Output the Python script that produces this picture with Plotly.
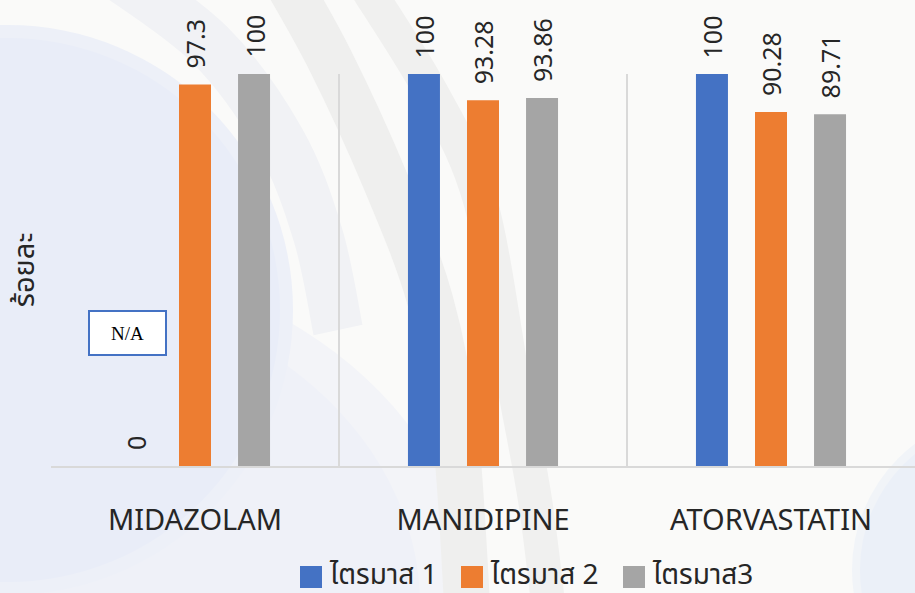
import plotly.graph_objects as go

# ---------------- data ----------------
categories = ["MIDAZOLAM", "MANIDIPINE", "ATORVASTATIN"]
series_names = ["ไตรมาส 1", "ไตรมาส 2", "ไตรมาส3"]
q1_values = [0, 100, 100]
q2_values = [97.3, 93.28, 90.28]
q3_values = [100, 93.86, 89.71]
series_values = [q1_values, q2_values, q3_values]
series_colors = ["#4472C4", "#ED7D31", "#A5A5A5"]
y_title = "ร้อยละ"
na_text = "N/A"
na_value = 34

# ---------------- layout constants ----------------
W, H = 915, 593
L, R, T, B = 51, 0, 74, 127
PW, PH = W - L - R, H - T - B
BARGAP, BARGROUPGAP = 0.385, 0.458
n_series = len(series_values)
slot_px = PW / len(categories) * (1 - BARGAP) / n_series

FONT = "Noto Sans, Noto Sans Thai, Leelawadee UI, Tahoma, sans-serif"
TXT = "#262626"


def p2x(x):
    return (x - L) / PW


def p2y(y):
    return (H - B - y) / PH


def smooth_path(pts):
    pts = [(p2x(x), p2y(y)) for x, y in pts]
    d = f"M{pts[0][0]:.4f},{pts[0][1]:.4f}"
    for i in range(len(pts) - 1):
        p0 = pts[i - 1] if i > 0 else pts[i]
        p1, p2 = pts[i], pts[i + 1]
        p3 = pts[i + 2] if i + 2 < len(pts) else pts[i + 1]
        c1 = (p1[0] + (p2[0] - p0[0]) / 6, p1[1] + (p2[1] - p0[1]) / 6)
        c2 = (p2[0] - (p3[0] - p1[0]) / 6, p2[1] - (p3[1] - p1[1]) / 6)
        d += f" C{c1[0]:.4f},{c1[1]:.4f} {c2[0]:.4f},{c2[1]:.4f} {p2[0]:.4f},{p2[1]:.4f}"
    return d


def circ(cx, cy, r, color):
    return dict(type="circle", xref="paper", yref="paper", layer="below",
                x0=p2x(cx - r), x1=p2x(cx + r), y0=p2y(cy + r), y1=p2y(cy - r),
                fillcolor=color, line_width=0)


fig = go.Figure()
for name, vals, col in zip(series_names, series_values, series_colors):
    fig.add_trace(go.Bar(x=categories, y=vals, name=name, marker_color=col,
                         marker_line_width=0, showlegend=False))

shapes = []
# decorative background (soft tinted discs and arcs)
shapes.append(dict(type="circle", xref="paper", yref="paper", layer="below",
                   x0=p2x(-450), x1=p2x(470), y0=p2y(950), y1=p2y(250),
                   fillcolor="#f3f4f8", line_width=0))
shapes.append(dict(type="circle", xref="paper", yref="paper", layer="below",
                   x0=p2x(-400), x1=p2x(420), y0=p2y(930), y1=p2y(280),
                   fillcolor="#eff1f8", line_width=0))
shapes.append(circ(8, 310, 285, "#edf0f8"))
shapes.append(circ(8, 310, 272, "#e9edf8"))
shapes.append(circ(1010, 570, 158, "#f1f4f8"))
shapes.append(circ(1010, 570, 150, "#ebf0f8"))
bands = [
    ([(110, -30), (210, 45), (280, 140), (318, 235), (338, 330)], 50, "#f1f2f5"),
    ([(280, -30), (330, 60), (385, 180), (430, 300), (455, 430), (468, 620)], 46, "#efefee"),
    ([(355, -30), (430, 90), (480, 200), (513, 380), (535, 500), (550, 620)], 34, "#f0f0ef"),
]
for pts, w, c in bands:
    shapes.append(dict(type="path", xref="paper", yref="paper", layer="below",
                       path=smooth_path(pts), line=dict(color=c, width=w)))

# legend (manual, larger squares)
leg_x = [300, 461, 623]
leg_y0, leg_size = 566, 22
annotations = []
for lx, name, col in zip(leg_x, series_names, series_colors):
    shapes.append(dict(type="rect", xref="paper", yref="paper",
                       x0=p2x(lx), x1=p2x(lx + leg_size),
                       y0=p2y(leg_y0 + leg_size), y1=p2y(leg_y0),
                       fillcolor=col, line_width=0))
    annotations.append(dict(xref="paper", yref="paper", x=p2x(lx + leg_size + 6),
                            y=p2y(H), xanchor="left", yanchor="bottom",
                            text=name, showarrow=False, borderpad=0,
                            font=dict(family=FONT, size=28, color=TXT)))

# data labels
for i, vals in enumerate(series_values):
    for cat, v in zip(categories, vals):
        annotations.append(dict(x=cat, y=v, xref="x", yref="y",
                                xshift=(i - (n_series - 1) / 2) * slot_px, yshift=14,
                                text=f"{v:g}", textangle=-90, showarrow=False,
                                xanchor="center", yanchor="bottom",
                                font=dict(family=FONT, size=25, color=TXT)))

# N/A box
annotations.append(dict(x=categories[0], y=na_value, xref="x", yref="y", xshift=-68,
                        text=na_text, showarrow=False,
                        font=dict(family="Liberation Serif, Times New Roman, serif", size=19, color="#000000"),
                        bgcolor="#ffffff", bordercolor="#4472C4", borderwidth=2, borderpad=0,
                        width=75, height=42))

fig.update_layout(
    width=W, height=H, autosize=False,
    margin=dict(l=L, r=R, t=T, b=B),
    paper_bgcolor="#fafaf9", plot_bgcolor="rgba(0,0,0,0)",
    barmode="group", bargap=BARGAP, bargroupgap=BARGROUPGAP,
    shapes=shapes, annotations=annotations, showlegend=False,
    xaxis=dict(showgrid=True, gridcolor="#d9d9d9", gridwidth=1.5, tickson="boundaries",
               showline=True, linecolor="#d9d9d9", linewidth=2, ticks="",
               ticklabelstandoff=27,
               tickfont=dict(family=FONT, size=29, color=TXT)),
    yaxis=dict(range=[0, 100], showgrid=False, zeroline=False, showticklabels=False,
               ticks="", title=dict(text=y_title, standoff=6,
                                    font=dict(family=FONT, size=29, color=TXT))),
)

fig.write_html("out.html", config={"displayModeBar": False},
               post_script="document.body.style.margin='0';document.body.style.overflow='hidden';")
